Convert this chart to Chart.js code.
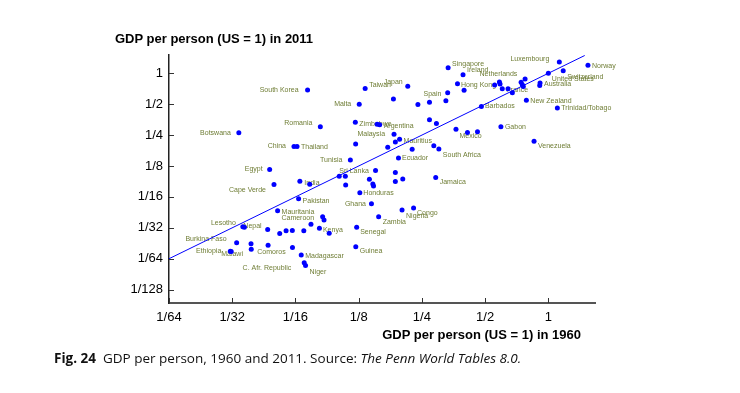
<!DOCTYPE html>
<html>
<head>
<meta charset="utf-8">
<script src="https://cdn.jsdelivr.net/npm/chart.js@4.4.0/dist/chart.umd.min.js"></script>
<style>
  body { margin: 0; background: #fff; }
  #wrap { position: relative; width: 740px; height: 393px; }
  .title { position: absolute; font: bold 13px "Liberation Sans", Arial, sans-serif; line-height: 16px; color: #000; white-space: nowrap; }
  #ytitle { left: 115px; top: 31px; }
  #xtitle { right: 159px; top: 327px; }
  #caption { position: absolute; left: 54px; top: 350px; font: 13.5px "Open Sans", sans-serif; line-height: 16px; color: #111; white-space: nowrap; }
</style>
</head>
<body>
<div id="wrap">
  <canvas id="chart" width="740" height="393"></canvas>
  <div class="title" id="ytitle">GDP per person (US = 1) in 2011</div>
  <div class="title" id="xtitle">GDP per person (US = 1) in 1960</div>
  <div id="caption"><b>Fig. 24</b>&nbsp; GDP per person, 1960 and 2011. Source: <i>The Penn World Tables 8.0.</i></div>
</div>
<script>
// GDP per person relative to the US
const countries = [
  "South Korea", "Malta", "Romania", "Botswana", "China", "Thailand", "Zimbabwe", "", "Tunisia", "Taiwan",
  "Japan", "", "", "Spain", "", "", "Singapore", "Ireland", "Hong Kong", "",
  "", "Netherlands", "", "France", "", "", "", "", "", "",
  "Australia", "", "Luxembourg", "United States", "Switzerland", "Norway", "New Zealand", "Barbados", "Trinidad/Tobago", "Gabon",
  "Mexico", "", "", "Venezuela", "", "", "", "Argentina", "Malaysia", "",
  "Mauritius", "", "", "", "South Africa", "Ecuador", "Sri Lanka", "", "", "",
  "", "", "", "", "", "", "Jamaica", "Honduras", "Ghana", "Nigeria",
  "Congo", "Zambia", "Senegal", "Guinea", "Egypt", "Cape Verde", "India", "", "Pakistan", "Mauritania",
  "Cameroon", "", "Lesotho", "Nepal", "", "", "", "", "", "",
  "Kenya", "", "Burkina Faso", "", "Comoros", "", "Ethiopia", "Malawi", "", "Madagascar",
  "C. Afr. Republic", "Niger"
];
const gdp1960 = [
  0.0714, 0.1258, 0.0821, 0.0336, 0.0615, 0.0636, 0.1205, 0.1209, 0.1141, 0.1342,
  0.2141, 0.1830, 0.2393, 0.2717, 0.3252, 0.3317, 0.3333, 0.3924, 0.3694, 0.397,
  0.555, 0.585, 0.589, 0.6035, 0.643, 0.674, 0.742, 0.775, 0.752, 0.760,
  0.913, 0.910, 1.128, 1.0, 1.177, 1.544, 0.786, 0.480, 1.104, 0.5945,
  0.3633, 0.412, 0.4599, 0.855, 0.2717, 0.2932, 0.1530, 0.1573, 0.1842, 0.1869,
  0.1958, 0.1719, 0.2247, 0.2849, 0.3011, 0.1934, 0.1010, 0.1080, 0.1084, 0.1504,
  0.1406, 0.1460, 0.1471, 0.1869, 0.1869, 0.2027, 0.2909, 0.1266, 0.1438, 0.2011,
  0.2282, 0.1556, 0.1223, 0.1211, 0.0471, 0.0494, 0.0656, 0.0731, 0.0647, 0.0514,
  0.0842, 0.0855, 0.0351, 0.0357, 0.0461, 0.0526, 0.0564, 0.0604, 0.0685, 0.0741,
  0.0813, 0.0905, 0.0328, 0.0384, 0.0385, 0.0463, 0.0306, 0.0309, 0.0605, 0.0666,
  0.0688, 0.0698
];
const gdp2011 = [
  0.688, 0.500, 0.3016, 0.2637, 0.1936, 0.1936, 0.3334, 0.2048, 0.1431, 0.711,
  0.749, 0.562, 0.4966, 0.5228, 0.5398, 0.647, 1.134, 0.967, 0.790, 0.684,
  0.769, 0.823, 0.787, 0.708, 0.708, 0.647, 0.817, 0.880, 0.774, 0.744,
  0.804, 0.760, 1.289, 1.0, 1.058, 1.197, 0.546, 0.475, 0.459, 0.3016,
  0.2848, 0.2651, 0.2693, 0.2176, 0.3527, 0.3245, 0.3181, 0.3153, 0.2545, 0.2141,
  0.2274, 0.1906, 0.1821, 0.1971, 0.1830, 0.1496, 0.0992, 0.0992, 0.0817, 0.1131,
  0.0928, 0.0835, 0.0799, 0.1081, 0.0882, 0.0934, 0.0966, 0.0687, 0.0537, 0.0466,
  0.0487, 0.0401, 0.0317, 0.0204, 0.1157, 0.0826, 0.0887, 0.0832, 0.0599, 0.0459,
  0.0401, 0.0372, 0.0320, 0.0316, 0.0301, 0.0275, 0.0292, 0.0295, 0.0292, 0.0339,
  0.0309, 0.0277, 0.0224, 0.0219, 0.0193, 0.0212, 0.0185, 0.0184, 0.0201, 0.0170,
  0.0143, 0.0134
];
const fitLine = [1 / 64, 1.49];   // 45 degree line, x = y
const xTicks = [1/64, 1/32, 1/16, 1/8, 1/4, 1/2, 1];
const yTicks = [1/128, 1/64, 1/32, 1/16, 1/8, 1/4, 1/2, 1];

// where each country label sits next to its dot: [dx, dy, align]
const labelLayout = {
  "South Korea": [-9, 0, "right"], "Malta": [-8, 0, "right"], "Romania": [-8, -4, "right"],
  "Botswana": [-8, 0.5, "right"], "China": [-8, 0, "right"], "Thailand": [4, 0.5, "left"],
  "Tunisia": [-8, 0, "right"], "Egypt": [-7, 0, "right"], "Cape Verde": [-8, 6, "right"],
  "India": [4.5, 1.5, "left"], "Pakistan": [4, 2, "left"], "Mauritania": [4, 1, "left"],
  "Cameroon": [-8.5, 1, "right"], "Lesotho": [-7, -4, "right"], "Nepal": [-1, -1, "left"],
  "Kenya": [3.5, 1.4, "left"], "Burkina Faso": [-10, -4, "right"], "Ethiopia": [-9, 0, "right"],
  "Malawi": [-10, 3, "left"], "Comoros": [6, 3, "left"], "C. Afr. Republic": [-13, 5.6, "right"],
  "Niger": [4, 6, "left"], "Madagascar": [4, 0.7, "left"], "Senegal": [3.5, 5, "left"],
  "Guinea": [4, 4.5, "left"], "Zambia": [4, 5.6, "left"], "Nigeria": [4, 5.7, "left"],
  "Congo": [3.5, 5.3, "left"], "Ghana": [-5.5, 0.6, "right"], "Honduras": [3.5, 0.6, "left"],
  "Jamaica": [4, 5, "left"], "Sri Lanka": [0, -5, "left"], "Ecuador": [3.5, 0, "left"],
  "South Africa": [4, 5.7, "left"], "Mauritius": [4, 1.4, "left"], "Malaysia": [-9, 0, "right"],
  "Argentina": [4, 1, "left"], "Zimbabwe": [4, 1.4, "left"], "Mexico": [3.5, 6.4, "left"],
  "Gabon": [4, 0.5, "left"], "Venezuela": [4, 5, "left"], "Barbados": [3.5, 0, "left"],
  "New Zealand": [4, 0.4, "left"], "Trinidad/Tobago": [4, 0.3, "left"], "Australia": [4, 1, "left"],
  "France": [4, 1, "left"], "United States": [3.5, 5.3, "left"], "Switzerland": [4, 6, "left"],
  "Norway": [4, 0.4, "left"], "Luxembourg": [-10, -3.3, "right"], "Netherlands": [-1, -7.5, "center"],
  "Hong Kong": [3.5, 1, "left"], "Ireland": [4, -4.5, "left"], "Singapore": [4, -3.7, "left"],
  "Spain": [3, -8.5, "center"], "Japan": [-5, -4.5, "right"], "Taiwan": [4, -3.5, "left"]
};

const fontFamily = '"Liberation Sans", Arial, sans-serif';

function frac(v) {
  return v >= 1 ? '1' : '1/' + Math.round(1 / v);
}

// country names, drawn under the dots
const countryLabels = {
  id: 'countryLabels',
  beforeDatasetsDraw(chart) {
    const { ctx, scales } = chart;
    ctx.save();
    ctx.font = '7px ' + fontFamily;
    ctx.fillStyle = '#6f7d35';
    ctx.textBaseline = 'middle';
    countries.forEach((name, i) => {
      if (!name) return;
      const [dx, dy, align] = labelLayout[name] || [4, 0, 'left'];
      ctx.textAlign = align;
      ctx.fillText(name, scales.x.getPixelForValue(gdp1960[i]) + dx, scales.y.getPixelForValue(gdp2011[i]) + dy);
    });
    ctx.restore();
  }
};

// short tick marks pointing into the plot
const innerTicks = {
  id: 'innerTicks',
  afterDraw(chart) {
    const { ctx, chartArea, scales } = chart;
    ctx.save();
    ctx.strokeStyle = '#333';
    ctx.lineWidth = 1;
    ctx.beginPath();
    xTicks.forEach(v => {
      const px = Math.round(scales.x.getPixelForValue(v)) + 0.5;
      ctx.moveTo(px, chartArea.bottom);
      ctx.lineTo(px, chartArea.bottom - 5);
    });
    yTicks.forEach(v => {
      const py = Math.round(scales.y.getPixelForValue(v)) + 0.5;
      ctx.moveTo(chartArea.left, py);
      ctx.lineTo(chartArea.left + 5, py);
    });
    ctx.stroke();
    ctx.restore();
  }
};

const ctx = document.getElementById('chart').getContext('2d');
const chart = new Chart(ctx, {
  data: {
    datasets: [
      {
        type: 'line',
        data: fitLine.map(v => ({ x: v, y: v })),
        borderColor: '#0000ff',
        borderWidth: 1,
        pointRadius: 0
      },
      {
        type: 'scatter',
        data: countries.map((c, i) => ({ x: gdp1960[i], y: gdp2011[i] })),
        backgroundColor: '#0000ff',
        borderWidth: 0,
        pointRadius: 2.5
      }
    ]
  },
  options: {
    responsive: false,
    animation: false,
    layout: { padding: { left: 109, right: 145, top: 55, bottom: 60 } },
    plugins: { legend: { display: false }, tooltip: { enabled: false } },
    scales: {
      x: {
        type: 'logarithmic',
        min: 1 / 64,
        max: 1.668,
        afterBuildTicks: s => { s.ticks = xTicks.map(v => ({ value: v })); },
        afterFit: s => { s.height = 30; },
        grid: { display: false, drawTicks: false },
        border: { color: '#555', width: 2 },
        ticks: { callback: frac, font: { size: 13, family: fontFamily }, color: '#000', padding: 7, autoSkip: false, maxRotation: 0 }
      },
      y: {
        type: 'logarithmic',
        min: 0.00579,
        max: 1.507,
        afterBuildTicks: s => { s.ticks = yTicks.map(v => ({ value: v })); },
        afterFit: s => { s.width = 60; },
        grid: { display: false, drawTicks: false },
        border: { color: '#222', width: 1.5 },
        ticks: { callback: frac, font: { size: 13, family: fontFamily }, color: '#000', padding: 6, autoSkip: false }
      }
    }
  },
  plugins: [countryLabels, innerTicks]
});
</script>
</body>
</html>
